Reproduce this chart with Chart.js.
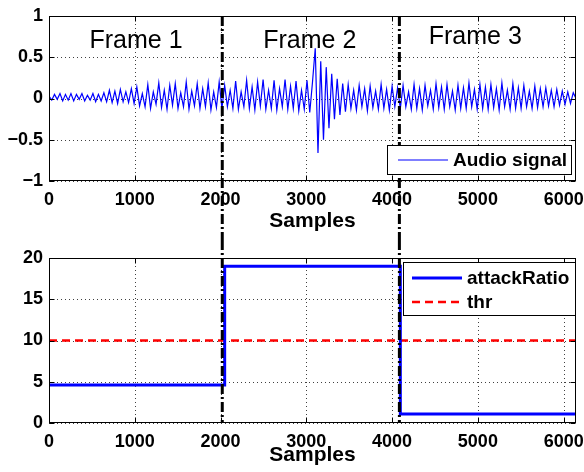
<!DOCTYPE html>
<html>
<head>
<meta charset="utf-8">
<script src="https://cdn.jsdelivr.net/npm/chart.js@4.4.1/dist/chart.umd.min.js"></script>
<style>
  html, body { margin: 0; padding: 0; background: #fff; }
  #wrap { position: relative; width: 584px; height: 472px; overflow: hidden; }
  .pane { position: absolute; left: 0; }
  #topPane { top: 0; }
  #bottomPane { top: 240px; }
</style>
</head>
<body>
<div id="wrap">
  <div class="pane" id="topPane"><canvas id="signalChart" width="584" height="240"></canvas></div>
  <div class="pane" id="bottomPane"><canvas id="ratioChart" width="584" height="232"></canvas></div>
</div>
<script>
// audio samples, one value every SAMPLE_STEP samples (peaks / troughs of the waveform)
var SAMPLE_STEP = 32;
var frame1Audio = [
  0.03, -0.02, 0.05, -0.01, 0.06, -0.03, 0.05, -0.02, 0.06, -0.03, 0.05, -0.01, 0.06, -0.03, 0.04, -0.02,
  0.06, -0.04, 0.05, -0.03, 0.07, -0.04, 0.1, -0.05, 0.09, -0.06, 0.11, -0.04, 0.08, -0.05, 0.12, -0.06,
  0.14, -0.09, 0.06, -0.1, 0.17, -0.12, 0.08, -0.07, 0.19, -0.11, 0.1, -0.13, 0.16, -0.08, 0.18, -0.12,
  0.07, -0.1, 0.2, -0.13, 0.09, -0.09, 0.18, -0.12, 0.12, -0.1, 0.19, -0.14, 0.08, -0.11, 0.2, -0.12
];
var frame2Audio = [
  0.16, -0.1, 0.1, -0.12, 0.21, -0.13, 0.08, -0.1, 0.22, -0.12, 0.14, -0.14, 0.2, -0.09, 0.23, -0.13,
  0.1, -0.12, 0.22, -0.14, 0.12, -0.1, 0.23, -0.13, 0.15, -0.12, 0.21, -0.15, 0.1, -0.13, 0.22, -0.17,
  0.2, 0.61, -0.66, 0.45, -0.5, 0.38, -0.36, 0.3, -0.25, 0.24, -0.2, 0.18,
  -0.16, 0.17, -0.12, 0.1, -0.14, 0.16, -0.1, 0.12, -0.15, 0.15, -0.11, 0.09, -0.13, 0.17, -0.12, 0.11,
  -0.14, 0.15, -0.1, 0.13
];
var frame3Audio = [
  -0.12, 0.16, -0.1, 0.08, -0.13, 0.17, -0.12, 0.12, -0.14, 0.16, -0.09, 0.1, -0.13, 0.18, -0.11, 0.14,
  -0.13, 0.17, -0.1, 0.09, -0.14, 0.16, -0.12, 0.13, -0.12, 0.19, -0.1, 0.11, -0.13, 0.17, -0.12, 0.14,
  -0.13, 0.17, -0.11, 0.12, -0.14, 0.19, -0.1, 0.1, -0.13, 0.18, -0.12, 0.13, -0.12, 0.16, -0.1, 0.09,
  -0.12, 0.15, -0.11, 0.12, -0.1, 0.13, -0.09, 0.1, -0.1, 0.11, -0.08, 0.09, -0.07, 0.08, -0.06, 0.07,
  0.0
];

// attack ratio per frame and detection threshold
var attackX = [0, 2048, 4096, 6144];
var attackRatio = [4.6, 19, 1.1, 1.1];
var thrX = [0, 6144];
var thr = [10, 10];

// frame boundaries and their captions
var frameEdges = [2020, 4085];
var frameLabels = ["Frame 1", "Frame 2", "Frame 3"];
var frameLabelX = [1015, 3040, 4970];
var frameLabelY = [0.61, 0.61, 0.66];

// axis ticks
var sampleTicks = [0, 1000, 2000, 3000, 4000, 5000, 6000];
var audioTicks = [-1, -0.5, 0, 0.5, 1];
var ratioTicks = [0, 5, 10, 15, 20];

var FONT = '"Liberation Sans", Arial, Helvetica, sans-serif';

function toPoints(xs, ys) {
  return ys.map(function (y, i) { return { x: xs[i], y: y }; });
}

var audio = frame1Audio.concat(frame2Audio, frame3Audio);
var audioPoints = audio.map(function (v, i) { return { x: i * SAMPLE_STEP, y: v }; });

function fixedTicks(values) {
  return function (scale) {
    scale.ticks = values.map(function (v) { return { value: v }; });
  };
}

// plain numbers, typographic minus
function plainLabel(v) {
  return v < 0 ? "\u2212" + String(-v) : String(v);
}

// dotted grid, box and inward tick marks
var axesBox = {
  id: "axesBox",
  beforeDatasetsDraw: function (chart) {
    var ctx = chart.ctx, a = chart.chartArea;
    var xs = chart.scales.x, ys = chart.scales.y;
    ctx.save();
    ctx.strokeStyle = "rgba(0,0,0,0.75)";
    ctx.lineWidth = 1;
    ctx.setLineDash([1, 3]);
    xs.ticks.forEach(function (t) {
      var px = Math.round(xs.getPixelForValue(t.value)) + 0.5;
      ctx.beginPath();
      ctx.moveTo(px, a.top);
      ctx.lineTo(px, a.bottom);
      ctx.stroke();
    });
    ys.ticks.forEach(function (t) {
      var py = Math.round(ys.getPixelForValue(t.value)) + 0.5;
      ctx.beginPath();
      ctx.moveTo(a.left, py);
      ctx.lineTo(a.right, py);
      ctx.stroke();
    });
    ctx.restore();
  },
  afterDatasetsDraw: function (chart) {
    var ctx = chart.ctx, a = chart.chartArea;
    var xs = chart.scales.x, ys = chart.scales.y;
    var L = Math.round(a.left) + 0.5, R = Math.round(a.right) - 0.5;
    var T = Math.round(a.top) + 0.5, B = Math.round(a.bottom) - 0.5;
    ctx.save();
    ctx.strokeStyle = "#000";
    ctx.lineWidth = 1;
    ctx.beginPath();
    xs.ticks.forEach(function (t) {
      var px = Math.round(xs.getPixelForValue(t.value)) + 0.5;
      ctx.moveTo(px, B); ctx.lineTo(px, B - 5);
      ctx.moveTo(px, T); ctx.lineTo(px, T + 5);
    });
    ys.ticks.forEach(function (t) {
      var py = Math.round(ys.getPixelForValue(t.value)) + 0.5;
      ctx.moveTo(L, py); ctx.lineTo(L + 5, py);
      ctx.moveTo(R, py); ctx.lineTo(R - 5, py);
    });
    ctx.stroke();
    ctx.strokeRect(L, T, R - L, B - T);
    ctx.restore();
  }
};

// frame captions, dash-dot frame edges and the boxed legend
var overlay = {
  id: "overlay",
  afterDatasetsDraw: function (chart, args, opts) {
    var ctx = chart.ctx, a = chart.chartArea;
    var xs = chart.scales.x, ys = chart.scales.y;
    ctx.save();

    if (opts.captions) {
      ctx.fillStyle = "#000";
      ctx.font = "25px " + FONT;
      ctx.textAlign = "center";
      ctx.textBaseline = "alphabetic";
      frameLabels.forEach(function (t, i) {
        ctx.fillText(t, xs.getPixelForValue(frameLabelX[i]), ys.getPixelForValue(frameLabelY[i]));
      });
    }

    var y0 = opts.edgesDown ? a.top : 0;
    var y1 = opts.edgesDown ? chart.height : a.bottom;
    ctx.strokeStyle = "#000";
    ctx.lineWidth = 3;
    ctx.setLineDash([10, 3, 2, 3]);
    frameEdges.forEach(function (v) {
      var px = xs.getPixelForValue(v);
      ctx.beginPath();
      ctx.moveTo(px, y0);
      ctx.lineTo(px, y1);
      ctx.stroke();
    });
    ctx.setLineDash([]);

    var lg = opts.legend;
    var bx = a.right - lg.right - lg.width;
    var by = lg.top != null ? a.top + lg.top : a.bottom - lg.bottom - lg.height;
    ctx.fillStyle = "#fff";
    ctx.fillRect(bx, by, lg.width, lg.height);
    ctx.strokeStyle = "#000";
    ctx.lineWidth = 1;
    ctx.strokeRect(Math.round(bx) + 0.5, Math.round(by) + 0.5, lg.width - 1, lg.height - 1);
    ctx.font = "bold 19px " + FONT;
    ctx.textAlign = "left";
    ctx.textBaseline = "middle";
    chart.data.datasets.forEach(function (ds, i) {
      var y = by + lg.rowTop + i * lg.rowGap;
      ctx.strokeStyle = ds.borderColor;
      ctx.lineWidth = ds.borderWidth;
      ctx.setLineDash(ds.borderDash || []);
      ctx.beginPath();
      ctx.moveTo(bx + lg.lineX, y);
      ctx.lineTo(bx + lg.lineX + 50, y);
      ctx.stroke();
      ctx.setLineDash([]);
      ctx.fillStyle = "#000";
      ctx.fillText(ds.label, bx + lg.textX, y + 1);
    });
    ctx.restore();
  }
};

function xScale(height, titlePad) {
  return {
    type: "linear",
    min: 0,
    max: 6144,
    afterBuildTicks: fixedTicks(sampleTicks),
    afterFit: function (s) {
      s.height = height;
      s.paddingLeft = 0;
      s.paddingRight = 0;
    },
    grid: { display: false, drawTicks: false },
    border: { display: false },
    ticks: {
      color: "#000",
      padding: 8,
      maxRotation: 0,
      autoSkip: false,
      font: { family: FONT, size: 18, weight: "bold" },
      callback: plainLabel
    },
    title: {
      display: true,
      text: "Samples",
      color: "#000",
      font: { family: FONT, size: 21, weight: "bold" },
      padding: { top: 0, bottom: titlePad }
    }
  };
}

function yScale(min, max, ticks) {
  return {
    min: min,
    max: max,
    afterBuildTicks: fixedTicks(ticks),
    afterFit: function (s) {
      s.width = 49;
      s.paddingTop = 0;
      s.paddingBottom = 0;
    },
    grid: { display: false, drawTicks: false },
    border: { display: false },
    ticks: {
      color: "#000",
      padding: 6,
      font: { family: FONT, size: 18, weight: "bold" },
      callback: plainLabel
    }
  };
}

new Chart(document.getElementById("signalChart"), {
  type: "line",
  data: {
    datasets: [
      {
        label: "Audio signal",
        data: audioPoints,
        borderColor: "#0000ff",
        borderWidth: 1.2,
        pointRadius: 0,
        fill: false,
        tension: 0
      }
    ]
  },
  options: {
    responsive: false,
    animation: false,
    layout: { padding: { top: 16, right: 8, left: 0, bottom: 0 } },
    plugins: {
      legend: { display: false },
      tooltip: { enabled: false },
      overlay: {
        captions: true,
        edgesDown: true,
        legend: { width: 185, height: 30, right: 4, bottom: 6, lineX: 11, textX: 66, rowTop: 15, rowGap: 0 }
      }
    },
    scales: {
      x: xScale(59, 6),
      y: yScale(-1, 1, audioTicks)
    }
  },
  plugins: [axesBox, overlay]
});

new Chart(document.getElementById("ratioChart"), {
  type: "line",
  data: {
    datasets: [
      {
        label: "attackRatio",
        data: toPoints(attackX, attackRatio),
        stepped: true,
        borderColor: "#0000ff",
        borderWidth: 3,
        pointRadius: 0,
        fill: false
      },
      {
        label: "thr",
        data: toPoints(thrX, thr),
        borderColor: "#ff0000",
        borderWidth: 2.5,
        borderDash: [8, 5],
        pointRadius: 0,
        fill: false
      }
    ]
  },
  options: {
    responsive: false,
    animation: false,
    layout: { padding: { top: 18, right: 8, left: 0, bottom: 0 } },
    plugins: {
      legend: { display: false },
      tooltip: { enabled: false },
      overlay: {
        captions: false,
        edgesDown: false,
        legend: { width: 173, height: 54, right: 0, top: 4, lineX: 9, textX: 64, rowTop: 16, rowGap: 24 }
      }
    },
    scales: {
      x: xScale(49, 4),
      y: yScale(0, 20, ratioTicks)
    }
  },
  plugins: [axesBox, overlay]
});
</script>
</body>
</html>
